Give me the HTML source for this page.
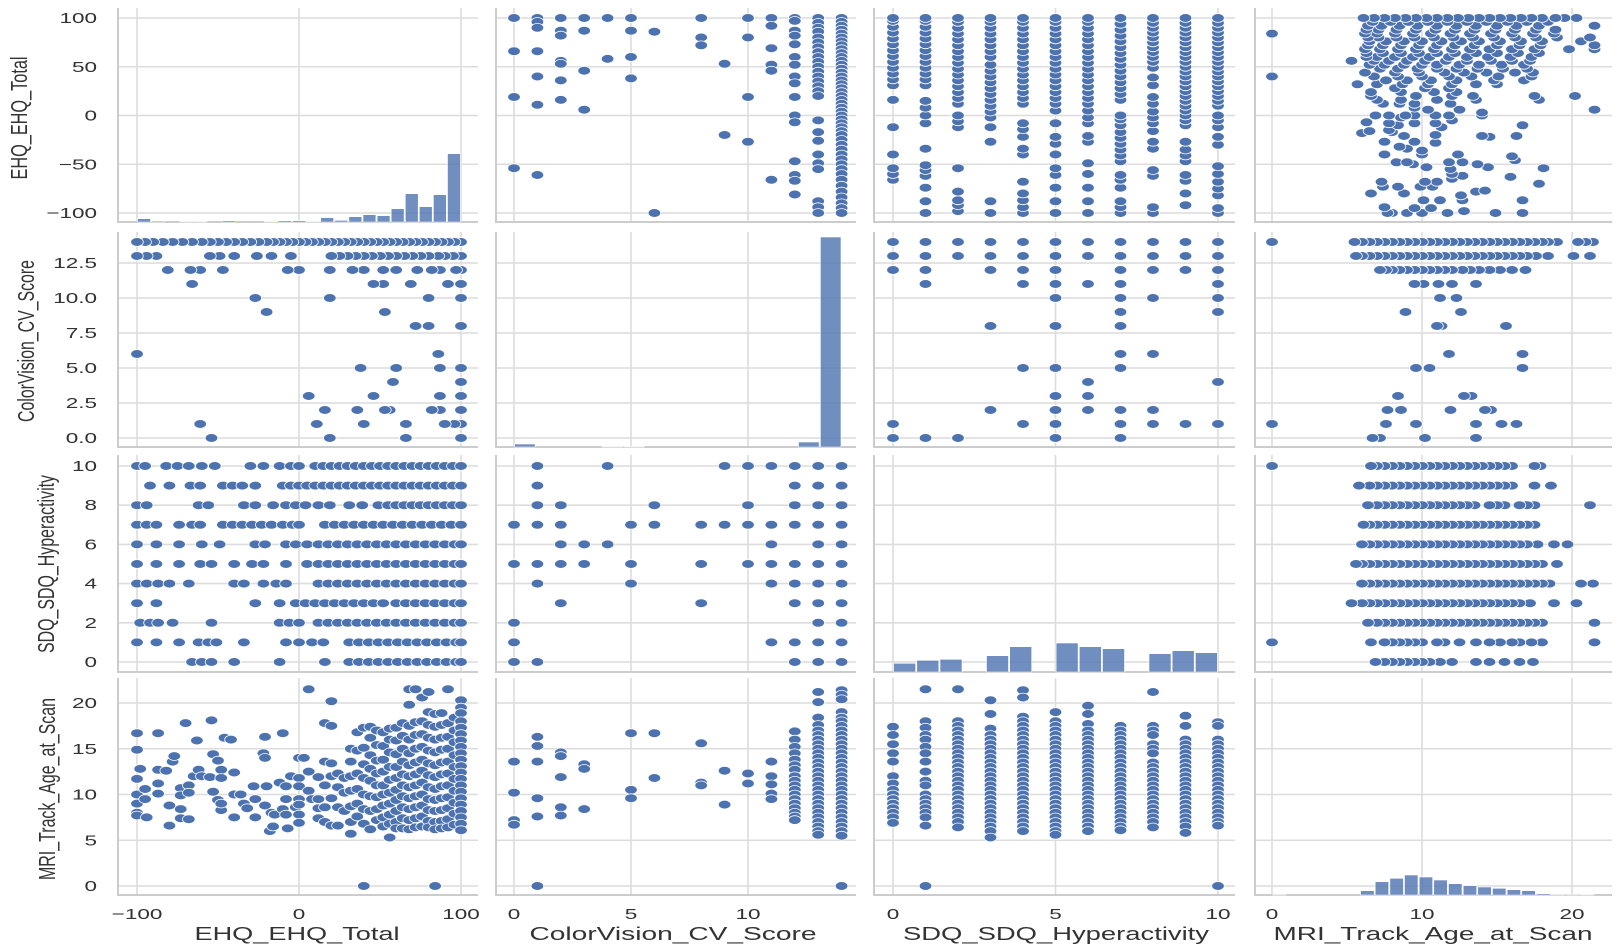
<!DOCTYPE html>
<html><head><meta charset="utf-8">
<style>
html,body{margin:0;padding:0;background:#fff;}
svg{display:block;font-family:"Liberation Sans",Arial,sans-serif;}
</style></head>
<body>
<svg id="chart" width="1618" height="952" viewBox="0 0 1618 952" xmlns="http://www.w3.org/2000/svg">
<rect width="1618" height="952" fill="#ffffff"/>
<g id="grid"></g><g id="marks"></g><g id="labels"></g>
</svg>
<script>
// ---------- DATA ----------
const varNames = ["EHQ_EHQ_Total","ColorVision_CV_Score","SDQ_SDQ_Hyperactivity","MRI_Track_Age_at_Scan"];
const xTicks = [[-100,0,100],[0,5,10],[0,5,10],[0,10,20]];
const xTickLabels = [["\u2212100","0","100"],["0","5","10"],["0","5","10"],["0","10","20"]];
const yTicks = [[-100,-50,0,50,100],[0,2.5,5,7.5,10,12.5],[0,2,4,6,8,10],[0,5,10,15,20]];
const yTickLabels = [["\u2212100","\u221250","0","50","100"],["0.0","2.5","5.0","7.5","10.0","12.5"],["0","2","4","6","8","10"],["0","5","10","15","20"]];

// EHQ values grouped by CV score
const cvLevels = [0,1,2,3,4,5,6,8,9,10,11,12,13,14];
const ehqByCv = [
 [100,66,19,-54],
 [100,96,90,66,40,11,-61],
 [100,87,82,56,53,36,16],
 [100,87,46,6],
 [100,58],
 [100,87,60,38],
 [86,-100],
 [100,80,72],
 [53,-20],
 [100,80,19,-27],
 [100,92,69,52,46,-66],
 [100,97,87,82,73,60,52,40,33,19,0,-7,-47,-61,-67,-81],
 [100,95,90,86,80,75,70,65,60,55,50,45,40,35,30,25,20,-5,-17,-26,-40,-49,-55,-88,-94,-100],
 [100,96,92,88,84,80,76,72,68,64,60,56,52,48,44,40,36,32,28,24,20,16,12,8,4,0,-4,-8,-12,-16,-20,-25,-30,-35,-40,-45,-50,-55,-60,-66,-72,-78,-84,-90,-95,-100]
];
// EHQ values grouped by SDQ score
const sdqLevels = [0,1,2,3,4,5,6,7,8,9,10];
const ehqBySdq = [
 [-66,-60,-54,-40,-12,16,31,37,43,49,55,61,67,73,79,85,91,97,100],
 [-100,-88,-74,-62,-56,-51,-34,-8,0,8,15,31,37,43,49,55,61,67,73,79,85,91,97,100],
 [-98,-92,-87,-78,-54,-12,-6,0,12,18,24,30,36,42,48,54,60,66,72,78,84,90,96,100],
 [-100,-88,-27,-12,-2,4,10,16,22,28,34,40,46,52,60,66,72,78,84,90,96,100],
 [-100,-94,-87,-80,-68,-40,-34,-22,-14,-8,12,18,24,30,36,42,48,54,60,66,72,78,84,90,96,100],
 [-100,-88,-74,-61,-54,-40,-29,-22,-8,5,12,18,24,30,36,42,48,54,60,66,72,78,84,90,96,100],
 [-100,-88,-74,-60,-49,-27,-21,-8,-2,5,12,18,24,30,36,42,48,54,60,66,72,78,84,90,96,100],
 [-100,-94,-88,-74,-66,-61,-47,-41,-35,-29,-23,-17,-10,-4,0,16,22,28,34,40,46,52,58,64,70,76,82,88,94,100],
 [-100,-94,-62,-56,-34,-27,-16,-8,-2,4,12,19,31,39,49,55,60,65,70,75,80,85,90,95,100],
 [-92,-80,-67,-61,-47,-41,-35,-27,-10,-5,0,5,10,15,20,25,30,35,40,45,50,55,60,65,70,75,80,85,90,95,100],
 [-100,-95,-82,-75,-68,-60,-52,-30,-22,-12,-5,0,10,15,20,25,30,35,40,45,50,55,60,65,70,75,80,85,90,95,100]
];
// sparse EHQ / age pairs
const ehqAgeSparse = [
 [-100,16.7],[-100,14.9],[-100,11.7],[-100,10],[-100,9],[-100,8],[-100,7.7],[-98,12.8],[-95,10.6],[-95,9.5],[-94,7.5],
 [-87,16.7],[-87,12.7],[-87,11.2],[-87,10.1],[-82,12.6],[-80,6.6],[-80,8.8],[-78,13.6],[-77,14.2],[-73,10.7],[-73,9.9],
 [-73,7.4],[-73,8.4],[-70,17.8],[-68,11],[-68,10.2],[-68,7.3],[-65,12],[-62,12.7],[-63,15.9],[-60,12],[-55,11.9],
 [-54,18.1],[-53,14.4],[-53,10.3],[-50,13.7],[-50,9.4],[-48,12.7],[-48,11.8],[-48,8.3],[-48,9],[-46,16.2],[-42,16],
 [-40,7.5],[-40,10],[-40,12.4],[-36,10],[-34,9],[-32,8.5],[-28,10.9],[-27,9.5],[-27,7.5],[-22,14.5],[-21,14],[-21,16.3],
 [-21,8.8],[-20,10.9],[-18,6.0],[-17,8],[-16,6.5],[-15,7.8],[-12,11.3],[-10,16.7],[-10,8.4],[-8,10.9],[-8,9.5],[-8,7.8],
 [-7,6.3],[-5,12],[-2,8.6],[0,11.8],[0,14],[0,10.9],[0,9.5],[0,8.9],[0,7.8],[0,6.9],[3,14],[6,21.5],[6,12.5],[6,10.4],[8,9.5]
];
// dense EHQ columns with ages
const ehqCols = [12,16,20,24,28,32,36,40,44,48,52,56,60,64,68,72,76,80,84,88,92,96,100];
const agesByEhqCol = [
 [11.9,9.5,8.5,7.4],
 [17.8,13.6,11,8.6,7],
 [20.2,17.5,13.4,12,9.6,6.6],
 [12.3,10.8,8.6,6.6],
 [11.8,10.2,8.2],
 [15,13.6,12,10.4,8.7,7,5.7],
 [16.8,14.8,12.3,10.6,9,7.6],
 [17.3,15.1,13.3,11.8,10,8.4,6.8,0],
 [17.4,16.2,14.3,12.8,11.5,9.8,8.2,6.2],
 [17,15.4,13.7,12.3,11,9.7,8.4,7.2],
 [16.8,15.3,13.8,12.5,11,10,8.8,7.5,6.5],
 [17.2,16,14.6,13,11.6,10.2,9,7.8,6.8,5.3],
 [17.3,15.9,14.4,13,11.8,10.5,9.4,8.2,7,6.3],
 [17.8,16.4,15,13.6,12.2,11,9.8,8.6,7.4,6.3],
 [21.5,19.8,17.5,16,14.5,13.2,12,10.8,9.6,8.4,7.2,6.2],
 [21.5,17.9,16.5,15,13.5,12.2,11,9.8,8.6,7.4,6.4],
 [20.6,18,16.6,15.2,13.8,12.6,11.3,10,8.8,7.6,6.5],
 [21.2,19,17.6,16.2,14.8,13.4,12.1,10.8,9.5,8.3,7.1,6.4],
 [18.8,17.4,16,14.6,13.2,11.9,10.6,9.4,8.2,7,6.2,0],
 [18.9,17.6,16.2,14.9,13.5,12.2,10.9,9.6,8.3,7.1,6.3],
 [21.5,17.8,16.3,15,13.6,12.3,11,9.7,8.5,7.3,6.4],
 [18.4,17,15.7,14.3,13,11.7,10.4,9.1,7.9,6.7],
 [20.3,19.5,18.9,18,17.3,16.6,15.9,15.2,14.5,13.8,13.1,12.4,11.7,11,10.3,9.6,8.9,8.2,7.5,6.8,6.1]
];
// CV values grouped by SDQ score
const cvBySdq = [
 [14,13,12,1,0],
 [14,13,12,11,0],
 [14,13,0],
 [14,13,12,8,2],
 [14,13,12,11,5,1],
 [14,13,12,11,10,8,5,3,2,1,0],
 [14,13,11,4,3,2],
 [14,13,12,11,10,9,8,6,5,2,1,0],
 [14,13,12,10,6,2,1],
 [14,13,12,1],
 [14,13,12,11,10,9,4,1]
];
// ages grouped by CV score
const ageByCv = [
 [13.6,10.2,7.2,6.7],
 [16.3,15.3,13.6,9.6,7.6,0],
 [14.6,14.2,11.9,8.6,7.7],
 [13.3,12.8,8.4],
 [],
 [16.7,10.5,9.6],
 [16.7,11.8],
 [15.6,11.3,11.0],
 [12.6,8.9],
 [12.3,11.2],
 [13.6,12,11.1,10.1,9.5],
 [16.9,16,15.2,14.5,13.8,13.2,12.7,12.0,11.5,11.0,10.5,10,9.5,9.0,8.5,8.0,7.6,7.2],
 [21.2,20.1,18.4,17.6,17,16.5,16,15.5,15,14.5,14,13.5,13,12.5,12,11.5,11,10.5,10,9.5,9,8.5,8,7.5,7,6.5,6,5.6],
 [21.4,20.9,20.4,19,18.4,18,17.5,17,16.5,16,15.5,15,14.5,14,13.5,13,12.5,12,11.5,11,10.5,10,9.5,9,8.5,8,7.5,7,6.5,6,5.5,0]
];
const ageCvLevels = [0,1,2,3,4,5,6,8,9,10,11,12,13,14];
// ages grouped by SDQ score
const ageBySdq = [
 [17.4,16.5,15.5,14.5,13.6,12,11.2,10.5,10,9.5,9,8.5,8,7.5,6.9],
 [21.5,18,17.3,16.5,16,15.2,14.5,13.6,12.5,11.5,11,10,9.5,9,8.5,8,7.5,6.6,0],
 [21.5,18,17.5,17,16.5,16,15.5,15,14.5,14,13.5,13,12.5,12,11.5,11,10.5,10,9.5,9,8.5,8,7.5,7,6.4],
 [20.3,18.8,17.2,16.5,16,15.5,15,14.5,14,13.5,13,12.5,12,11.5,11,10.5,10,9.5,9,8.5,8,7.5,7,6.5,6,5.3],
 [21.4,20.6,18.5,18,17.5,17,16.5,16,15.5,15,14.5,14,13.5,13,12.5,12,11.5,11,10.5,10,9.5,9,8.5,8,7.5,7,6.5,6],
 [19,18,17.5,17,16.5,16,15.5,15,14.5,14,13.5,13,12.5,12,11.5,11,10.5,10,9.5,9,8.5,8,7.5,7,6.5,6,5.6],
 [19.7,18.8,17.7,17,16.5,16,15.5,15,14.5,14,13.5,13,12.5,12,11.5,11,10.5,10,9.5,9,8.5,8,7.5,7,6.5,6],
 [17.5,17,16.5,16,15.5,15,14.5,14,13.5,13,12.5,12,11.5,11,10.5,10,9.5,9,8.5,8,7.5,7,6.5,6.1],
 [21.2,17.5,17,16.5,15.5,15,14.5,13.5,13,12.5,12,11.5,11,10.5,10,9.5,9,8.5,8,7.5,7,6.4],
 [18.6,17.5,16,15.5,15,14.5,14,13.5,13,12.5,12,11.5,11,10.5,10,9.5,9,8.5,8,7.5,7,6.5,5.8],
 [17.9,17.5,16,15.5,15,14.5,14,13.5,13,12.5,12,11.5,11,10.5,10,9.5,9,8.5,8,7.5,7,6.6,0]
];
// histograms (diagonal)
const ehqHistCounts = [10,3,0,2,2,0,4,0,0,2,4,4,2,13,5,16,22,19,40,85,46,82,205];
const cvHistCounts = [3,0,0,0,0.5,0.5,0,0,0,0,0,0,0,5,210];
const sdqHistCounts = [26,35,38,0,49,76,0,87,76,70,0,55,64,58];
const ageHistCounts = [1,0,0,0,0,0,13,40,50,60,54,45,34,28,24,20,16,13,4,1,1,2];
const histRanges = [[-100,100],[0,14],[0,10],[0,21.5]];

// ---------- LAYOUT ----------
const colBox = [[118,478],[496,856],[874,1235],[1255,1612]];
const rowBox = [[8,222],[232,447],[455,672],[678,895]];
const colMap = [[-100,137,100,461],[0,514,10,748],[0,893,10,1218],[0,1272,20,1572]];
const rowMap = [[-100,213,100,18],[0,438,14,242],[0,662,10,466],[0,886,20,703]];
const histPx = [1/3,1,1/3,1/3];
const NS = "http://www.w3.org/2000/svg";
function sx(c,v){const m=colMap[c];return m[1]+(v-m[0])*(m[3]-m[1])/(m[2]-m[0]);}
function sy(r,v){const m=rowMap[r];return m[1]+(v-m[0])*(m[3]-m[1])/(m[2]-m[0]);}
function mk(tag,parent){const e=document.createElementNS(NS,tag);parent.appendChild(e);return e;}
const gGrid=document.getElementById('grid'),gMarks=document.getElementById('marks'),gLab=document.getElementById('labels');

for(let r=0;r<4;r++)for(let c=0;c<4;c++){
  const [x0,x1]=colBox[c],[y0,y1]=rowBox[r];
  xTicks[c].forEach(t=>{const l=mk('line',gGrid);const x=sx(c,t);
    l.setAttribute('x1',x);l.setAttribute('x2',x);l.setAttribute('y1',y0);l.setAttribute('y2',y1);
    l.setAttribute('stroke','#dcdcdc');l.setAttribute('stroke-width','1.6');
    
    });
  yTicks[r].forEach(t=>{const l=mk('line',gGrid);const y=sy(r,t);
    l.setAttribute('x1',x0);l.setAttribute('x2',x1);l.setAttribute('y1',y);l.setAttribute('y2',y);
    l.setAttribute('stroke','#dcdcdc');l.setAttribute('stroke-width','1.6');
    
    });
  const sp=mk('path',gGrid);
  sp.setAttribute('d',`M${x0},${y0}V${y1}H${x1}`);sp.setAttribute('fill','none');
  sp.setAttribute('stroke','#cccccc');sp.setAttribute('stroke-width','2');
  
  
}

function dot(c,r,xv,yv){
  const e=mk('ellipse',gMarks);
  e.setAttribute('cx',sx(c,xv).toFixed(1));e.setAttribute('cy',sy(r,yv).toFixed(1));
  e.setAttribute('rx','6.3');e.setAttribute('ry','4.4');
  e.setAttribute('fill','#4c72b0');e.setAttribute('stroke','#ffffff');e.setAttribute('stroke-width','0.8');
  
  
}
function pairPlot(i,j,list){ list.forEach(p=>{dot(i,j,p[0],p[1]);dot(j,i,p[1],p[0]);}); }
function expand(levels,groups){const out=[];levels.forEach((lv,k)=>groups[k].forEach(v=>out.push([v,lv])));return out;}
pairPlot(0,1,expand(cvLevels,ehqByCv));
pairPlot(0,2,expand(sdqLevels,ehqBySdq));
const ehqAge=ehqAgeSparse.slice();
ehqCols.forEach((e,k)=>agesByEhqCol[k].forEach(a=>ehqAge.push([e,a])));
pairPlot(0,3,ehqAge);
pairPlot(1,2,expand(sdqLevels,cvBySdq));
pairPlot(1,3,expand(ageCvLevels,ageByCv).map(p=>[p[1],p[0]]));
pairPlot(2,3,expand(sdqLevels,ageBySdq).map(p=>[p[1],p[0]]));

[ehqHistCounts,cvHistCounts,sdqHistCounts,ageHistCounts].forEach((counts,k)=>{
  const [lo,hi]=histRanges[k];const w=(hi-lo)/counts.length;const base=rowBox[k][1];
  counts.forEach((cnt,b)=>{
    if(cnt<=0)return;
    const xa=sx(k,lo+b*w),xb=sx(k,lo+(b+1)*w);const h=cnt*histPx[k];
    const rc=mk('rect',gMarks);
    rc.setAttribute('x',(xa+0.6).toFixed(1));rc.setAttribute('width',Math.max(0.5,xb-xa-1.2).toFixed(1));
    rc.setAttribute('y',(base-h).toFixed(1));rc.setAttribute('height',h.toFixed(1));
    rc.setAttribute('fill','#4c72b0');rc.setAttribute('fill-opacity','0.8');
    rc.setAttribute('stroke','#ffffff');rc.setAttribute('stroke-width','0.6');
    
    
  });
});

for(let c=0;c<4;c++){
  xTicks[c].forEach((t,k)=>{const tx=mk('text',gLab);
    tx.setAttribute('transform',`translate(${sx(c,t).toFixed(1)},919) scale(1.5,1)`);
    tx.setAttribute('text-anchor','middle');tx.setAttribute('font-size','15');tx.setAttribute('fill','#333');
    tx.textContent=xTickLabels[c][k];
    
    });
}
for(let r=0;r<4;r++){
  yTicks[r].forEach((t,k)=>{const tx=mk('text',gLab);
    tx.setAttribute('transform',`translate(97,${(sy(r,t)+5).toFixed(1)}) scale(1.5,1)`);
    tx.setAttribute('text-anchor','end');tx.setAttribute('font-size','15');tx.setAttribute('fill','#333');
    tx.textContent=yTickLabels[r][k];
    
    });
}
const xTitleCx=[297,673,1056,1433],xTitleLen=[205,287,306,319];
for(let c=0;c<4;c++){const tx=mk('text',gLab);
  tx.setAttribute('x',xTitleCx[c]-xTitleLen[c]/2);tx.setAttribute('y',940);
  tx.setAttribute('font-size','18');tx.setAttribute('fill','#333');
  tx.setAttribute('textLength',xTitleLen[c]);tx.setAttribute('lengthAdjust','spacingAndGlyphs');
  tx.textContent=varNames[c];
  
  }
const yTitleCx=[27,34,54,55],yTitleLen=[123,162,178,182],yTitleCy=[118,341,564,789];
for(let r=0;r<4;r++){const tx=mk('text',gLab);
  tx.setAttribute('transform',`translate(${yTitleCx[r]},${yTitleCy[r]}) rotate(-90) scale(1,1.35)`);
  tx.setAttribute('x',-yTitleLen[r]/2);tx.setAttribute('y',0);
  tx.setAttribute('font-size','17');tx.setAttribute('fill','#333');
  tx.setAttribute('textLength',yTitleLen[r]);tx.setAttribute('lengthAdjust','spacingAndGlyphs');
  tx.textContent=varNames[r];
  
  }
</script>
</body></html>
